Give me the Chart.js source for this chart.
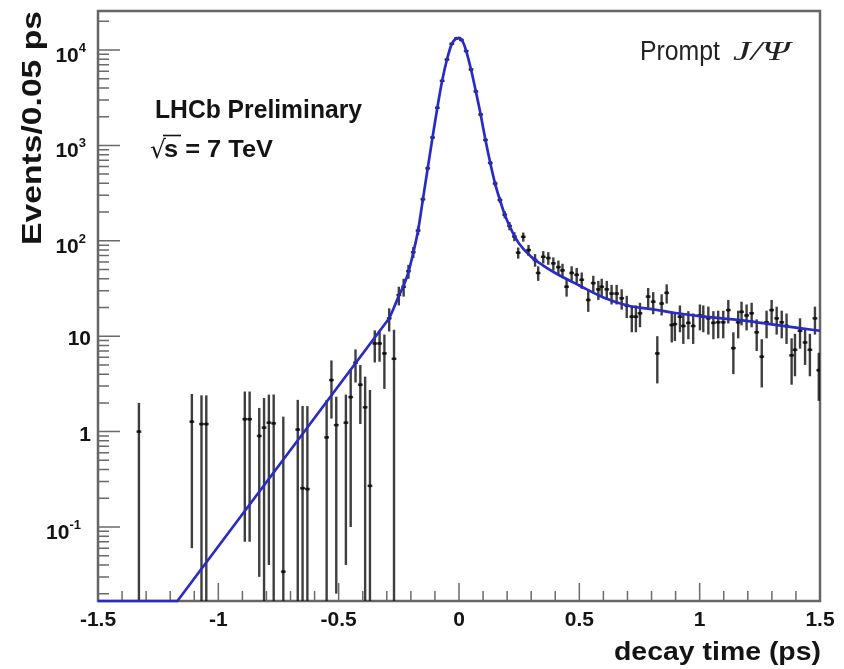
<!DOCTYPE html>
<html>
<head>
<meta charset="utf-8">
<script src="https://cdn.jsdelivr.net/npm/chart.js@4.4.0/dist/chart.umd.min.js"></script>
<style>
  html, body { margin: 0; padding: 0; background: #fff; }
  #wrap { width: 844px; height: 669px; position: relative; }
</style>
</head>
<body>
<div id="wrap"><canvas id="chart"></canvas></div>
<script>
  // --- data (sWeighted events per bin, symmetric errors) ---
  var dataX = [
    -1.33, -1.11, -1.07, -1.05, -0.89, -0.87, -0.83, -0.81, -0.79, -0.77,
    -0.73, -0.67, -0.65, -0.63, -0.55, -0.53, -0.51, -0.47, -0.45, -0.43,
    -0.41, -0.39, -0.37, -0.35, -0.33, -0.31, -0.29, -0.27,
    -0.25, -0.23, -0.21, -0.19, -0.17, -0.15, -0.13, -0.11, -0.09, -0.07,
    -0.05, -0.03, -0.01, 0.01, 0.03, 0.05, 0.07, 0.09, 0.11, 0.13,
    0.15, 0.17, 0.19, 0.21, 0.23,
    0.246, 0.267, 0.289, 0.316, 0.329, 0.35, 0.371, 0.392, 0.413, 0.43,
    0.447, 0.468, 0.489, 0.51, 0.537, 0.558, 0.579, 0.593, 0.614, 0.634,
    0.655, 0.676, 0.697, 0.718, 0.735, 0.752, 0.786, 0.807, 0.824, 0.842,
    0.863, 0.884, 0.897, 0.918, 0.932, 0.953, 0.973, 1.001, 1.015, 1.036,
    1.057, 1.077, 1.098, 1.119, 1.14, 1.16, 1.174, 1.195, 1.216, 1.237,
    1.258, 1.278, 1.299, 1.32, 1.341, 1.361, 1.382, 1.396, 1.417, 1.438,
    1.458, 1.479, 1.495
  ];
  var dataY = [
    1.0, 1.27, 1.2, 1.2, 1.35, 1.35, 0.9, 1.1, 1.24, 1.22,
    0.034, 1.05, 0.255, 0.25, 0.87, 3.47, 1.17, 1.24, 2.3, 5.27,
    3.1, 1.8, 0.27, 8.4, 8.4, 6.6, 15.4, 5.8,
    27, 33, 48, 76, 128, 272, 575, 1210, 2480, 4750,
    7950, 11600, 13250, 12750, 9750, 6250, 3680, 2110, 1140, 655,
    398, 268, 188, 143, 111,
    75, 110, 80, 63, 46, 68, 66, 58, 53, 49,
    33, 46, 44, 39, 24, 36, 31, 33, 31, 28,
    28, 25, 21, 16, 16, 17.4, 26, 23, 6.6, 22,
    28.5, 13.1, 13.4, 16, 12.8, 13.8, 12.8, 16.5, 16, 15.4,
    13.8, 14, 14, 18.8, 7.5, 14, 18, 16.5, 17.4, 11,
    6.1, 14, 18.8, 15.4, 14, 12.8, 6.3, 7.2, 11.4, 8.6,
    7.2, 15.4, 4.4
  ];
  var dataErr = [
    1.0, 1.21, 1.2, 1.2, 1.28, 1.28, 0.87, 1.15, 1.2, 1.23,
    1.4, 1.1, 1.6, 1.6, 1.27, 2.1, 1.15, 1.2, 2.2, 2.0,
    1.9, 1.97, 2.46, 3.1, 3.0, 3.8, 4.2, 5.9,
    6, 7, 8, 10, 13, 19, 28, 40, 58, 80,
    105, 125, 135, 132, 115, 92, 70, 53, 40, 30,
    24, 19, 16, 14, 12,
    10, 12, 10.5, 9.5, 8, 10, 10, 9, 9, 8.5,
    7, 8, 8, 7.5, 6, 7, 7, 7, 7, 6.5,
    6.5, 6, 5.5, 5, 5, 5, 6, 6, 3.4, 5.5,
    6.5, 4.5, 4.5, 5, 4.5, 4.5, 4.5, 5, 5, 5,
    4.5, 4.5, 4.5, 5.2, 3.5, 4.5, 5, 5, 5, 4,
    3.2, 4.5, 5.2, 5, 4.5, 4.5, 3.2, 3.4, 4, 3.6,
    3.4, 5, 2.3
  ];

  // fit: straight (exponential) part, flat where it runs below the frame
  var lineLowX = [-1.5, -1.17, -0.29];
  var lineLowY = [0.01676, 0.01676, 15.4];
  // fit: peak and tail
  var fitX = [
    -0.29, -0.27, -0.25, -0.23, -0.21, -0.19, -0.17, -0.15, -0.13, -0.11,
    -0.09, -0.07, -0.05, -0.03, -0.015, 0, 0.015, 0.03, 0.05, 0.07,
    0.09, 0.11, 0.13, 0.15, 0.17, 0.19, 0.21, 0.23, 0.25, 0.3,
    0.35, 0.4, 0.5, 0.6, 0.7, 0.8, 0.9, 1.0, 1.1, 1.2,
    1.3, 1.4, 1.5
  ];
  var fitY = [
    15.4, 20, 26.5, 34, 47, 75, 128, 272, 575, 1210,
    2480, 4750, 7950, 11600, 13000, 13400, 12300, 9750, 6250, 3680,
    2110, 1140, 655, 398, 268, 188, 143, 113, 93, 68,
    55, 46, 34, 25.5, 21, 19.2, 17.5, 16.2, 15.3, 14.4,
    13.3, 12.3, 11.4
  ];

  var X_MIN = -1.5, X_MAX = 1.5;
  var Y_MIN = 0.01676, Y_MAX = 25630;
  var BIN_HALF = 0.01;

  var xTickValues = [-1.5, -1, -0.5, 0, 0.5, 1, 1.5];
  var xTickLabels = ['-1.5', '-1', '-0.5', '0', '0.5', '1', '1.5'];
  var xMinorStep = 0.1;
  var yTickValues = [0.1, 1, 10, 100, 1000, 10000];
  var yTickBases = ['10', '1', '10', '10', '10', '10'];
  var yTickExps = ['-1', '', '', '2', '3', '4'];

  var FONT = '"Liberation Sans", Arial, sans-serif';
  var INK = '#141414';
  var FIT_BLUE = '#2a2ac6';

  function pts(xs, ys) {
    return xs.map(function (x, i) { return { x: x, y: ys[i] }; });
  }

  function fitText(ctx, text, x, y, width, font, align) {
    ctx.font = font;
    var w = ctx.measureText(text).width;
    var sx = width ? width / w : 1;
    ctx.save();
    ctx.translate(x, y);
    ctx.scale(sx, 1);
    var off = align === 'right' ? -w : (align === 'center' ? -w / 2 : 0);
    ctx.textAlign = 'left';
    ctx.textBaseline = 'alphabetic';
    ctx.fillText(text, off, 0);
    ctx.restore();
  }

  // frame, inward ticks, then error bars -- all under the datasets
  var frameAndErrors = {
    id: 'frameAndErrors',
    beforeDatasetsDraw: function (chart) {
      var ctx = chart.ctx, xs = chart.scales.x, ys = chart.scales.y, a = chart.chartArea;
      var i, v, p;
      ctx.save();

      ctx.strokeStyle = '#6a6a6a';
      ctx.lineWidth = 1.5;
      ctx.beginPath();
      for (v = X_MIN; v <= X_MAX + 1e-9; v += xMinorStep) {
        var vr = Math.round(v * 10) / 10;
        var major = xTickValues.indexOf(vr) >= 0;
        p = xs.getPixelForValue(vr);
        ctx.moveTo(p, a.bottom);
        ctx.lineTo(p, a.bottom - (major ? 18 : 10));
      }
      for (var d = -2; d <= 4; d++) {
        for (var m = 1; m <= 9; m++) {
          v = m * Math.pow(10, d);
          if (v < Y_MIN || v > Y_MAX) continue;
          p = ys.getPixelForValue(v);
          ctx.moveTo(a.left, p);
          ctx.lineTo(a.left + (m === 1 ? 22 : 11), p);
        }
      }
      ctx.stroke();

      ctx.strokeStyle = '#666';
      ctx.lineWidth = 2.5;
      ctx.strokeRect(a.left, a.top, a.right - a.left, a.bottom - a.top);

      ctx.beginPath();
      ctx.rect(a.left, a.top, a.right - a.left, a.bottom - a.top);
      ctx.clip();
      ctx.strokeStyle = 'rgba(20,20,20,0.82)';
      ctx.lineWidth = 2.4;
      for (i = 0; i < dataX.length; i++) {
        var px = xs.getPixelForValue(dataX[i]);
        var lo = dataY[i] - dataErr[i];
        var yTop = ys.getPixelForValue(dataY[i] + dataErr[i]);
        var yBot = lo > 0 ? ys.getPixelForValue(lo) : a.bottom + 2;
        ctx.beginPath();
        ctx.moveTo(px, yTop);
        ctx.lineTo(px, yBot);
        ctx.stroke();
        var yv = ys.getPixelForValue(dataY[i]);
        ctx.beginPath();
        ctx.moveTo(xs.getPixelForValue(dataX[i] - BIN_HALF), yv);
        ctx.lineTo(xs.getPixelForValue(dataX[i] + BIN_HALF), yv);
        ctx.stroke();
      }
      ctx.restore();
    }
  };

  // labels, titles and annotations
  var rootText = {
    id: 'rootText',
    afterDraw: function (chart) {
      var ctx = chart.ctx, xs = chart.scales.x, ys = chart.scales.y;
      var i, p;
      ctx.save();

      ctx.fillStyle = INK;
      ctx.font = 'bold 21px ' + FONT;
      ctx.textAlign = 'center';
      ctx.textBaseline = 'alphabetic';
      for (i = 0; i < xTickValues.length; i++) {
        p = xs.getPixelForValue(xTickValues[i]);
        ctx.fillText(xTickLabels[i], p, 626);
      }

      for (i = 0; i < yTickValues.length; i++) {
        p = ys.getPixelForValue(yTickValues[i]);
        if (!yTickExps[i]) {
          ctx.font = 'bold 21px ' + FONT;
          ctx.textAlign = 'right';
          ctx.fillText(yTickBases[i], 91, p + 9);
        } else {
          ctx.font = 'bold 13px ' + FONT;
          var ew = ctx.measureText(yTickExps[i]).width;
          ctx.font = 'bold 21px ' + FONT;
          var bw = ctx.measureText(yTickBases[i]).width;
          var right = yTickExps[i] === '-1' ? 81 : 86;
          var bx = right - ew - bw;
          ctx.textAlign = 'left';
          ctx.fillText(yTickBases[i], bx, p + 12);
          ctx.font = 'bold 13px ' + FONT;
          ctx.fillText(yTickExps[i], bx + bw, p + 2);
        }
      }

      fitText(ctx, 'decay time (ps)', 821, 660, 207, 'bold 26px ' + FONT, 'right');
      ctx.save();
      ctx.translate(41, 245);
      ctx.rotate(-Math.PI / 2);
      fitText(ctx, 'Events/0.05 ps', 0, 0, 234, 'bold 27px ' + FONT, 'left');
      ctx.restore();

      fitText(ctx, 'LHCb Preliminary', 155, 118, 207, 'bold 25px ' + FONT, 'left');
      ctx.font = '25px "DejaVu Sans", sans-serif';
      ctx.textAlign = 'left';
      ctx.fillText('\u221A', 150, 158);
      ctx.strokeStyle = INK;
      ctx.lineWidth = 1.6;
      ctx.beginPath();
      ctx.moveTo(163, 135.5);
      ctx.lineTo(181, 135.5);
      ctx.stroke();
      fitText(ctx, 's = 7 TeV', 164, 157, 109, 'bold 24px ' + FONT, 'left');

      ctx.fillStyle = '#222';
      fitText(ctx, 'Prompt', 640, 60, 80, '27px ' + FONT, 'left');
      fitText(ctx, 'J/\u03A8', 733, 60, 57, 'italic 28px "Liberation Serif", serif', 'left');

      ctx.restore();
    }
  };

  new Chart(document.getElementById('chart'), {
    type: 'line',
    data: {
      datasets: [
        {
          data: pts(lineLowX, lineLowY),
          borderColor: FIT_BLUE,
          borderWidth: 2.7,
          pointRadius: 0,
          tension: 0,
          clip: 3,
          order: 0
        },
        {
          data: pts(fitX, fitY),
          borderColor: FIT_BLUE,
          borderWidth: 2.7,
          pointRadius: 0,
          cubicInterpolationMode: 'monotone',
          order: 0
        },
        {
          data: pts(dataX, dataY),
          showLine: false,
          pointRadius: 1.6,
          pointBackgroundColor: '#111',
          pointBorderWidth: 0,
          order: 1
        }
      ]
    },
    options: {
      responsive: true,
      maintainAspectRatio: false,
      animation: false,
      devicePixelRatio: 1,
      layout: { padding: { left: 98, right: 24, top: 11, bottom: 68 } },
      plugins: { legend: { display: false }, tooltip: { enabled: false } },
      scales: {
        x: { type: 'linear', min: X_MIN, max: X_MAX, display: false },
        y: { type: 'logarithmic', min: Y_MIN, max: Y_MAX, display: false }
      }
    },
    plugins: [frameAndErrors, rootText]
  });
</script>
</body>
</html>
